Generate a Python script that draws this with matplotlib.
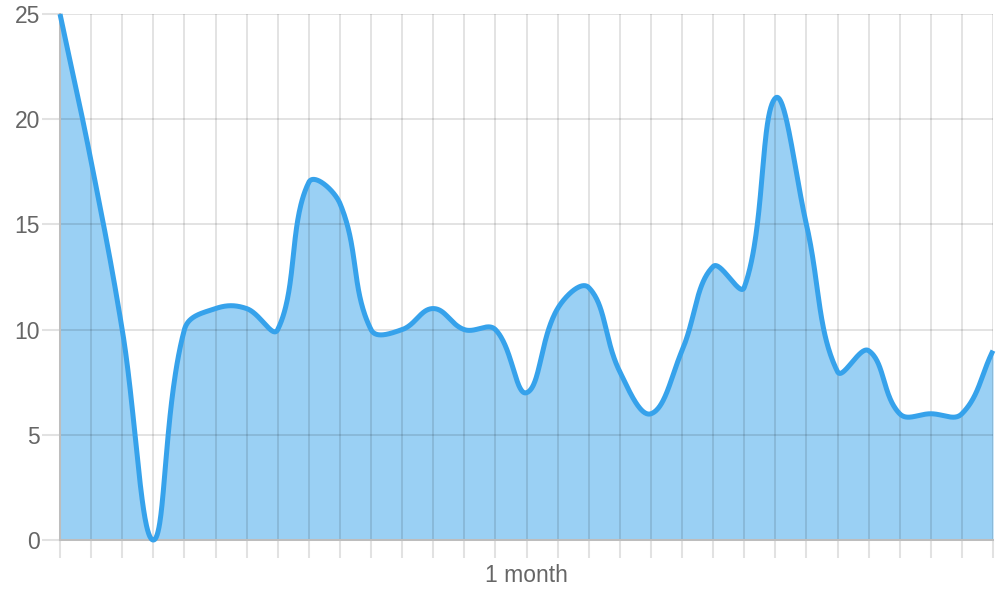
import numpy as np
import matplotlib
matplotlib.use("Agg")
import matplotlib.pyplot as plt

# ---- data ----
values = [25, 18, 10, 0, 10, 11, 11, 10, 17, 16, 10, 10, 11, 10, 10, 7,
          11, 12, 8, 6, 9, 13, 12, 21, 15, 8, 9, 6, 6, 6, 9]
y_ticks = [0, 5, 10, 15, 20, 25]
x_label_index = 15
x_label_text = "1 month"

W, H, DPI = 1000, 600, 100
fig = plt.figure(figsize=(W / DPI, H / DPI), dpi=DPI)
left_px, right_px, top_px, bottom_px = 60, 993, 14, 540
ax = fig.add_axes([left_px / W, 1 - bottom_px / H,
                   (right_px - left_px) / W, (bottom_px - top_px) / H])

n = len(values)
ymin, ymax = 0, 25
sx = (right_px - left_px) / (n - 1)
sy = (bottom_px - top_px) / (ymax - ymin)

# Chart.js style spline (tension 0.4), computed in pixel space
px = np.arange(n) * sx
py = np.array(values, dtype=float) * sy
t = 0.4
cprev = np.zeros((n, 2))
cnext = np.zeros((n, 2))
for i in range(n):
    f = (px[max(i - 1, 0)], py[max(i - 1, 0)])
    m = (px[i], py[i])
    a = (px[min(i + 1, n - 1)], py[min(i + 1, n - 1)])
    d01 = np.hypot(m[0] - f[0], m[1] - f[1])
    d12 = np.hypot(a[0] - m[0], a[1] - m[1])
    tot = d01 + d12
    s01 = d01 / tot if tot else 0
    s12 = d12 / tot if tot else 0
    fa, fb = t * s01, t * s12
    cprev[i] = (m[0] - fa * (a[0] - f[0]), m[1] - fa * (a[1] - f[1]))
    cnext[i] = (m[0] + fb * (a[0] - f[0]), m[1] + fb * (a[1] - f[1]))
# cap control points to chart area
for c in (cprev, cnext):
    c[:, 0] = np.clip(c[:, 0], 0, px[-1])
    c[:, 1] = np.clip(c[:, 1], ymin * sy, ymax * sy)

xs, ys = [], []
tt = np.linspace(0, 1, 60)
for i in range(n - 1):
    p0 = np.array([px[i], py[i]])
    p1 = cnext[i]
    p2 = cprev[i + 1]
    p3 = np.array([px[i + 1], py[i + 1]])
    pts = ((1 - tt) ** 3)[:, None] * p0 + (3 * (1 - tt) ** 2 * tt)[:, None] * p1 \
        + (3 * (1 - tt) * tt ** 2)[:, None] * p2 + (tt ** 3)[:, None] * p3
    if i > 0:
        pts = pts[1:]
    xs.extend(pts[:, 0] / sx)
    ys.extend(pts[:, 1] / sy)
xs = np.array(xs)
ys = np.array(ys)

line_color = "#36a2eb"
ax.fill_between(xs, ys, 0, color=(54 / 255, 162 / 255, 235 / 255, 0.5), linewidth=0, zorder=1)
ax.plot(xs, ys, color=line_color, linewidth=3.6, solid_capstyle="butt",
        solid_joinstyle="round", zorder=3, clip_on=False)

ax.set_xlim(0, n - 1)
ax.set_ylim(ymin, ymax)

tick_c = "#e2e2e2"
axis_c = "#bdbdbd"
ax.set_xticks(np.arange(n))
ax.set_xticklabels([x_label_text if i == x_label_index else "" for i in range(n)])
ax.set_yticks(y_ticks)
ax.set_yticklabels([str(v) for v in y_ticks])
ax.grid(True, color="black", alpha=0.11, linewidth=1.45)
for gl in ax.get_xgridlines() + ax.get_ygridlines():
    gl.set_zorder(2)
    gl.set_alpha(0.11)

for s in ("top", "right"):
    ax.spines[s].set_visible(False)
for s in ("left", "bottom"):
    ax.spines[s].set_color(axis_c)
    ax.spines[s].set_linewidth(1.45)
    ax.spines[s].set_zorder(2.5)

ax.tick_params(axis="both", length=13, width=1.45, color=tick_c,
               labelcolor="#666666", labelsize=16.5)
ax.tick_params(axis="y", pad=1.5)
ax.tick_params(axis="x", pad=4.5)
ax.yaxis.get_major_ticks()[0].tick1line.set_color(axis_c)
ax.xaxis.get_major_ticks()[0].tick1line.set_color(axis_c)

for lab in ax.get_xticklabels() + ax.get_yticklabels():
    lab.set_fontfamily(["Liberation Sans", "DejaVu Sans"])

fig.savefig("out.png", dpi=DPI)
